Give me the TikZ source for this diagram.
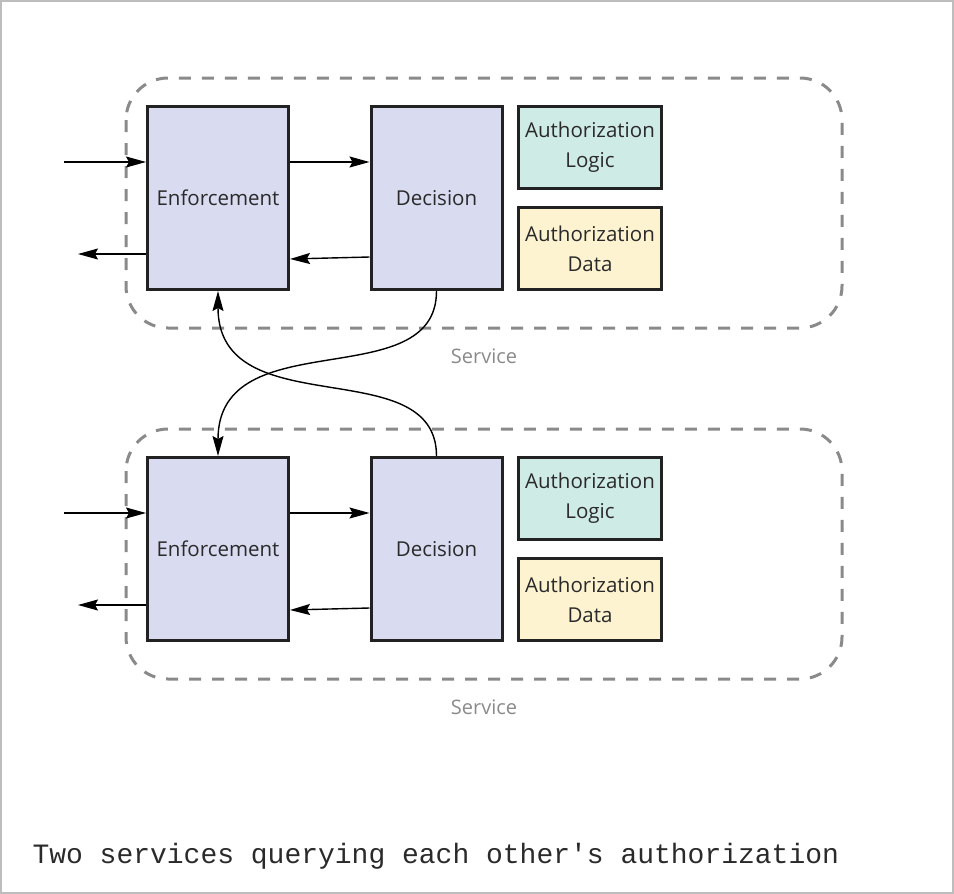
\documentclass[tikz,border=0pt]{standalone}
\usepackage{fontspec}
\setmainfont{Open Sans}
\setmonofont{Liberation Mono}
\usetikzlibrary{arrows.meta}
\definecolor{boxline}{HTML}{222222}
\definecolor{txt}{HTML}{2A2A2A}
\definecolor{lav}{HTML}{D9DBF0}
\definecolor{mint}{HTML}{CFEBE5}
\definecolor{cream}{HTML}{FDF3D1}
\definecolor{dashgray}{HTML}{8A8A8A}
\definecolor{framegray}{HTML}{BDBDBD}
\tikzset{
  box/.style={draw=boxline, line width=3pt, inner sep=0pt, align=center,
    text=txt, font=\fontsize{20.5}{30}\selectfont},
  bigbox/.style={box, fill=lav, minimum width=141pt, minimum height=183pt},
  decbox/.style={box, fill=lav, minimum width=131pt, minimum height=183pt},
  smallbox/.style={box, minimum width=143pt, minimum height=82pt},
  svc/.style={draw=dashgray, line width=3pt, dash pattern=on 12pt off 11pt, rounded corners=42pt},
  svclabel/.style={text=dashgray, font=\fontsize{20}{22}\selectfont},
  arr/.style={line width=1.4pt, -{Stealth[length=20pt,width=11pt,inset=3pt]}},
}
\newcommand\mkservice[2]{%
  \begin{scope}[shift={(0,#2)}]
    \draw[svc] (126,78) rectangle (842,328);
    \node[svclabel] (svc#1) at (484,356) {Service};
    \node[bigbox] (enf#1) at (218,198) {Enforcement};
    \node[decbox] (dec#1) at (436.5,198) {Decision};
    \node[smallbox, fill=mint] (logic#1) at (590,147.5) {Authorization\\Logic};
    \node[smallbox, fill=cream] (data#1) at (590,248.5) {Authorization\\Data};
    \coordinate (in#1) at (64,162);
    \coordinate (out#1) at (78,254);
  \end{scope}
  \draw[arr] (in#1) -- (in#1 -| enf#1.west);
  \draw[arr] (out#1 -| enf#1.west) -- (out#1);
  \draw[arr] (in#1 -| enf#1.east) -- (in#1 -| dec#1.west);
  \draw[arr] ([yshift=-59pt]dec#1.west) -- ([yshift=-61pt]enf#1.east);
}
\begin{document}
\begin{tikzpicture}[x=1pt,y=-1pt]
\useasboundingbox (0,0) rectangle (954,894);
\draw[framegray, line width=2pt] (1,1) rectangle (953,893);
\mkservice{1}{0}
\mkservice{2}{351}
\draw[arr] (dec1.south) .. controls +(0,106) and +(0,-136) .. (enf2.north);
\draw[arr] (dec2.north) .. controls +(0,-106) and +(0,136) .. (enf1.south);
\node[anchor=base west, text=txt, font=\ttfamily\fontsize{28}{32}\selectfont] (caption) at (29,863) {Two services querying each other's authorization};
\end{tikzpicture}
\end{document}
